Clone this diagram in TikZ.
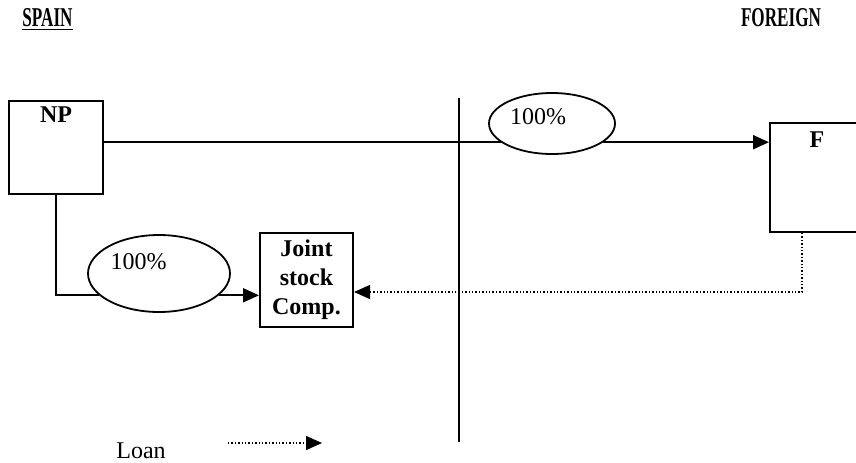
\documentclass[tikz,border=0pt]{standalone}
\usepackage{fontspec}
\setmainfont{Liberation Serif}
\newfontfamily\headfont[FakeStretch=0.63]{Liberation Serif}
\usetikzlibrary{arrows.meta,shapes.geometric,calc}

\begin{document}
\begin{tikzpicture}[x=0.5pt, y=-0.5pt, >={Triangle[length=8pt,width=7pt]},
    font=\fontsize{12}{14.5}\selectfont,
    box/.style={draw, line width=1pt, inner sep=0pt},
    boxlabel/.style={font=\fontsize{12}{14.5}\selectfont\bfseries, anchor=north},
    share/.style={draw, ellipse, line width=0.9pt, inner sep=0pt},
    conn/.style={line width=1pt},
    loan/.style={densely dotted, line width=0.7pt},
    head/.style={font=\fontsize{13.6}{16}\selectfont\headfont\bfseries, anchor=base}]
    \useasboundingbox (0,0) rectangle (856,462);
    \clip (0,0) rectangle (856,462);

    % --- Headings ---
    \node[head] (spain) at (47.5,26) {\underline{SPAIN}};
    \node[head] (foreign) at (781,26) {FOREIGN};

    % Border between the two countries
    \draw[line width=1.2pt] (459,98) -- (459,442);

    % --- Companies ---
    \node[box, minimum width=47pt, minimum height=46.5pt,
        label={[boxlabel, inner sep=3pt]north:NP}] (np) at (56,147.5) {};
    \node[box, minimum width=47pt, minimum height=54.5pt,
        label={[boxlabel, inner sep=4.5pt]north:F}] (f) at (817,177.5) {};
    \node[box, minimum width=46.5pt, minimum height=47pt, align=center,
        font=\fontsize{12}{14.5}\selectfont\bfseries] (jsc) at (306.5,280) {Joint\\stock\\Comp.};

    % --- Shareholdings ---
    \node[share, minimum width=63pt, minimum height=30.5pt] (own1) at (552,123.5) {};
    \node (pct1) at (538,116.5) {100\%};
    \node[share, minimum width=71pt, minimum height=38.5pt] (own2) at (159,273.5) {};
    \node (pct2) at (138.5,261.5) {100\%};

    % NP owns F
    \draw[conn] (np.east |- own1.200) -- (own1.200);
    \draw[conn, ->] (own1.-20) -- (f.west |- own1.-20);

    % NP owns the joint stock company
    \draw[conn] (np.south) |- (own2.200);
    \draw[conn, ->] (own2.-20) -- (jsc.west |- own2.-20);

    % Loan from F
    \draw[loan, ->] ([xshift=-7.5pt]f.south) |- ([yshift=-6pt]jsc.east);

    % --- Legend ---
    \node[anchor=base] (loan) at (141,458) {Loan};
    \coordinate (lg1) at (228,443);
    \coordinate (lg2) at (322,443);
    \draw[loan, ->] (lg1) -- (lg2);
\end{tikzpicture}
\end{document}
